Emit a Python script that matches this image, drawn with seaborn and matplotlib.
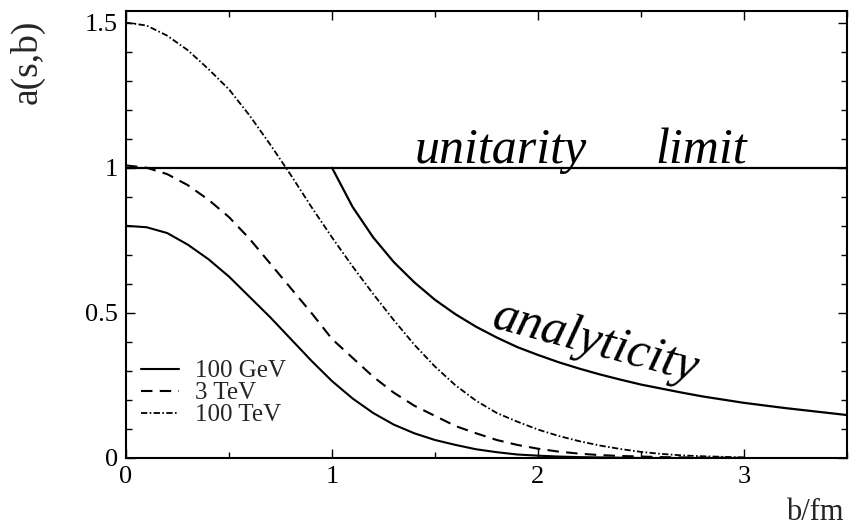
import matplotlib
matplotlib.use("Agg")
import matplotlib.pyplot as plt
import pandas as pd
import seaborn as sns
from matplotlib.ticker import MultipleLocator

# Impact parameter grid (fm) for the eikonal amplitudes
b_fm = [0.0, 0.1, 0.2, 0.3, 0.4, 0.5, 0.6, 0.7, 0.8, 0.9,
        1.0, 1.1, 1.2, 1.3, 1.4, 1.5, 1.6, 1.7, 1.8, 1.9,
        2.0, 2.1, 2.2, 2.3, 2.4, 2.5, 2.6, 2.7, 2.8, 2.9, 3.0]

a_100GeV = [0.80, 0.795, 0.775, 0.735, 0.685, 0.625, 0.555, 0.485, 0.41, 0.335,
            0.265, 0.205, 0.155, 0.115, 0.085, 0.062, 0.045, 0.03, 0.02, 0.012,
            0.008, 0.005, 0.003, 0.002, 0.001, 0.0, 0.0, 0.0, 0.0, 0.0, 0.0]

a_3TeV = [1.008, 1.0, 0.978, 0.94, 0.89, 0.83, 0.755, 0.67, 0.585, 0.50,
          0.41, 0.345, 0.28, 0.225, 0.18, 0.145, 0.11, 0.085, 0.062, 0.045,
          0.032, 0.022, 0.015, 0.01, 0.007, 0.005, 0.003, 0.002, 0.001, 0.001, 0.0]

a_100TeV = [1.50, 1.49, 1.455, 1.405, 1.34, 1.27, 1.18, 1.08, 0.975, 0.865,
            0.76, 0.66, 0.565, 0.475, 0.39, 0.315, 0.25, 0.197, 0.155, 0.125,
            0.098, 0.076, 0.058, 0.043, 0.031, 0.021, 0.014, 0.009, 0.006, 0.004, 0.002]

# Analyticity bound, starting where it meets the unitarity limit
b_analytic = [1.0, 1.1, 1.2, 1.3, 1.4, 1.5, 1.6, 1.7, 1.8, 1.9,
              2.0, 2.1, 2.2, 2.3, 2.4, 2.5, 2.6, 2.7, 2.8, 2.9,
              3.0, 3.1, 3.2, 3.3, 3.4, 3.5]
a_analytic = [1.00, 0.865, 0.76, 0.675, 0.605, 0.545, 0.495, 0.452, 0.415, 0.382,
              0.355, 0.33, 0.308, 0.288, 0.27, 0.253, 0.239, 0.225, 0.212, 0.201,
              0.19, 0.181, 0.172, 0.164, 0.156, 0.148]

# Unitarity limit a = 1
b_unitarity = [0.0, 3.5]
a_unitarity = [1.0, 1.0]

energies = ["100 GeV", "3 TeV", "100 TeV"]

sns.set_style("ticks")
plt.rcParams["font.family"] = ["Liberation Serif", "DejaVu Serif"]

fig = plt.figure(figsize=(8.52, 5.28), dpi=100)
ax = fig.add_axes([126 / 852, 70 / 528, 721 / 852, 447 / 528])

curves = pd.DataFrame({"b": b_fm * 3,
                       "a": a_100GeV + a_3TeV + a_100TeV,
                       "energy": [energies[0]] * len(b_fm)
                       + [energies[1]] * len(b_fm)
                       + [energies[2]] * len(b_fm)})

styles = {
    "100 GeV": dict(linestyle="-", lw=1.5),
    "3 TeV": dict(linestyle=(0, (5.5, 3.5)), lw=1.5),
    "100 TeV": dict(linestyle=(0, (3.5, 1.3, 0.9, 1.3)), lw=1.3),
}
for name in energies:
    sub = curves[curves["energy"] == name]
    sns.lineplot(data=sub, x="b", y="a", ax=ax, color="black", label=name,
                 estimator=None, sort=False, **styles[name])

sns.lineplot(x=b_unitarity, y=a_unitarity, ax=ax, color="black", lw=1.6,
             estimator=None, legend=False)
sns.lineplot(x=b_analytic, y=a_analytic, ax=ax, color="black", lw=1.6,
             estimator=None, legend=False)

ax.set_xlim(0, 3.5)
ax.set_ylim(0, 1.54)
ax.set_xlabel("")
ax.set_ylabel("")

ax.xaxis.set_major_locator(MultipleLocator(1))
ax.xaxis.set_minor_locator(MultipleLocator(0.5))
ax.yaxis.set_major_locator(MultipleLocator(0.5))
ax.yaxis.set_minor_locator(MultipleLocator(0.1))
ax.xaxis.set_major_formatter(plt.FuncFormatter(lambda v, p: f"{v:g}"))
ax.yaxis.set_major_formatter(plt.FuncFormatter(lambda v, p: f"{v:g}"))
ax.tick_params(which="both", direction="in", top=True, right=True,
               width=1.0, colors="black", labelsize=19)
ax.tick_params(which="major", length=6.5, pad=6)
ax.tick_params(which="minor", length=4.3)
for s in ax.spines.values():
    s.set_linewidth(1.5)
    s.set_color("black")

leg = ax.legend(loc="center left", bbox_to_anchor=(0.021, 0.145),
                frameon=False, fontsize=18, handlelength=1.5,
                handletextpad=0.65, labelspacing=-0.02, borderpad=0,
                borderaxespad=0)

fig.text(27 / 852, 1 - 62 / 528, "a(s,b)", rotation=90, ha="center",
         va="center", fontsize=27)
fig.text(815 / 852, 1 - 512 / 528, "b/fm", ha="center", va="center",
         fontsize=22)

hand = dict(family=["Liberation Serif", "DejaVu Serif"], style="italic",
            fontsize=36, color="black")
ax.text(1.40, 1.015, "unitarity", ha="left", va="baseline", **hand)
ax.text(2.57, 1.015, "limit", ha="left", va="baseline", **hand)
ax.text(2.28, 0.395, "analyticity", ha="center", va="center",
        rotation=-15, **hand)

fig.savefig("out.png", dpi=100)
